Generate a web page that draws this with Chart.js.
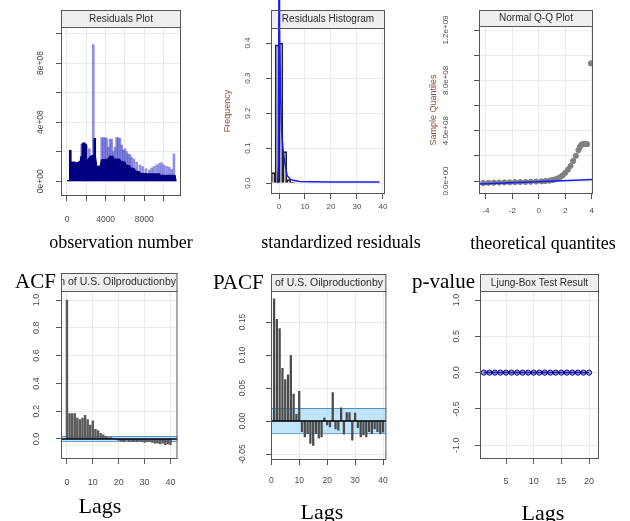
<!DOCTYPE html>
<html>
<head>
<meta charset="utf-8">
<script src="https://cdn.jsdelivr.net/npm/chart.js@4.4.0/dist/chart.umd.min.js"></script>
<style>
html, body { margin: 0; padding: 0; background: #fff; }
#page { position: relative; width: 630px; height: 521px; overflow: hidden; background: #fff; }
#page canvas { position: absolute; }
.lab { position: absolute; font-family: 'Liberation Serif', 'Times New Roman', serif; color: #000; white-space: nowrap; line-height: 1; z-index: 5; }
.ctr { text-align: center; width: 220px; }
</style>
</head>
<body>
<div id="page">
  <canvas id="c1"></canvas>
  <canvas id="c2"></canvas>
  <canvas id="c3"></canvas>
  <canvas id="c4"></canvas>
  <canvas id="c5"></canvas>
  <canvas id="c6"></canvas>
  <div class="lab ctr" style="left:11px;top:233px;font-size:18px">observation number</div>
  <div class="lab ctr" style="left:231px;top:233px;font-size:18px">standardized residuals</div>
  <div class="lab ctr" style="left:433px;top:234px;font-size:18px">theoretical quantites</div>
  <div class="lab" style="left:15px;top:271px;font-size:21px">ACF</div>
  <div class="lab" style="left:213px;top:272px;font-size:21px">PACF</div>
  <div class="lab" style="left:412px;top:271px;font-size:21px">p-value</div>
  <div class="lab ctr" style="left:-10px;top:495px;font-size:22px">Lags</div>
  <div class="lab ctr" style="left:212px;top:501px;font-size:22px">Lags</div>
  <div class="lab ctr" style="left:433px;top:502px;font-size:22px">Lags</div>
</div>
<script>
// residuals plot (observation number vs residual)
var residSpikeObs = [1520, 1690, 1860, 2030, 2310, 2720, 3590, 3760, 3930, 4100, 4280, 4450, 4620, 4790, 4970, 5140, 5310, 5480, 5660, 5830, 6000, 6170, 6350, 6520, 6690, 6930, 7210, 7550, 7830, 8170, 8520, 8760, 9000, 9280, 9550, 9790, 10030, 10310, 10590, 10830, 11070];
var residSpikeVal = [2.5e8, 2.6e8, 2.55e8, 2.4e8, 2.2e8, 9.25e8, 2.95e8, 2.95e8, 2.95e8, 2.9e8, 2.3e8, 2.85e8, 2.85e8, 2.0e8, 2.3e8, 2.95e8, 2.95e8, 2.9e8, 2.45e8, 2.1e8, 2.2e8, 2.0e8, 1.85e8, 1.8e8, 1.6e8, 1.5e8, 1.3e8, 1.1e8, 1.0e8, 0.85e8, 0.75e8, 0.9e8, 1.0e8, 1.1e8, 1.2e8, 1.25e8, 1.1e8, 1.0e8, 0.95e8, 0.8e8, 1.85e8];
var residDarkObs = [340, 1640, 1780, 1930, 2870];
var residDarkVal = [2.1e8, 2.55e8, 2.6e8, 2.5e8, 2.9e8];
var residBodyObs = [0, 280, 320, 420, 800, 1000, 1350, 1450, 1700, 1900, 2200, 2400, 2700, 2900, 3100, 3450, 3550, 4250, 4400, 4750, 4900, 5450, 5600, 6000, 6100, 6500, 6600, 7000, 7100, 7500, 7600, 8300, 9600, 9700, 11200, 11300];
var residBodyVal = [0.05e8, 0.05e8, 0.8e8, 1.3e8, 1.3e8, 1.25e8, 1.35e8, 1.7e8, 1.6e8, 1.45e8, 1.5e8, 1.7e8, 1.75e8, 1.9e8, 1.0e8, 1.05e8, 1.45e8, 1.5e8, 1.7e8, 1.7e8, 1.5e8, 1.5e8, 1.35e8, 1.3e8, 1.1e8, 1.05e8, 0.9e8, 0.85e8, 0.7e8, 0.65e8, 0.55e8, 0.5e8, 0.5e8, 0.4e8, 0.4e8, 0];
var residXTicks = [0, 2000, 4000, 6000, 8000, 10000];
var residXLabels = ['0', '', '4000', '', '8000', ''];
var residYTicks = [0, 2e8, 4e8, 6e8, 8e8, 1e9];
var residYLabels = ['0e+00', '', '4e+08', '', '8e+08', ''];

// residuals histogram
var histCenters = [-2.25, -0.75, 0.75, 2.25, 3.75, 5.25];
var histFreq = [0.03, 0.395, 0.40, 0.09, 0.01, 0.003];
var densX = [-0.6, -0.2, 0.0, 0.05, 0.35, 0.6, 1.0, 1.5, 2.2, 3.1, 4.2, 5.4, 8, 11.8, 20, 38.7];
var densY = [0.0, 0.05, 0.7, 0.7, 0.45, 0.25, 0.15, 0.1, 0.06, 0.022, 0.012, 0.008, 0.005, 0.004, 0.003, 0.003];
var histXTicks = [0, 10, 20, 30, 40];
var histXLabels = ['0', '10', '20', '30', '40'];
var histYTicks = [0, 0.1, 0.2, 0.3, 0.4];
var histYLabels = ['0.0', '0.1', '0.2', '0.3', '0.4'];

// normal Q-Q plot
var qqTheo = [-4.2, -3.8, -3.4, -3.0, -2.6, -2.2, -1.8, -1.4, -1.0, -0.6, -0.2, 0.2, 0.5, 0.8, 1.0, 1.2, 1.4, 1.6, 1.8, 2.0, 2.2, 2.4, 2.6, 2.8, 3.0, 3.1, 3.2, 3.3, 3.4, 3.5, 3.6, 3.65, 3.94];
var qqSample = [-0.16e8, -0.14e8, -0.13e8, -0.12e8, -0.11e8, -0.1e8, -0.09e8, -0.08e8, -0.07e8, -0.06e8, -0.04e8, -0.02e8, 0, 0.03e8, 0.07e8, 0.12e8, 0.2e8, 0.3e8, 0.45e8, 0.65e8, 0.9e8, 1.2e8, 1.6e8, 2.0e8, 2.45e8, 2.7e8, 2.85e8, 2.92e8, 2.95e8, 2.95e8, 2.95e8, 2.93e8, 9.35e8];
var qqLineX = [-4.52, 4.1];
var qqLineY = [-0.24e8, 0.13e8];
var qqXTicks = [-4, -2, 0, 2, 4];
var qqXLabels = ['-4', '-2', '0', '2', '4'];
var qqYTicks = [0, 2e8, 4e8, 6e8, 8e8, 1e9, 1.2e9];
var qqYLabels = ['0.0e+00', '', '4.0e+08', '', '8.0e+08', '', '1.2e+09'];

// ACF
var acfLags = [0, 1, 2, 3, 4, 5, 6, 7, 8, 9, 10, 11, 12, 13, 14, 15, 16, 17, 18, 19, 20, 21, 22, 23, 24, 25, 26, 27, 28, 29, 30, 31, 32, 33, 34, 35, 36, 37, 38, 39, 40];
var acfVals = [1.0, 0.183, 0.183, 0.183, 0.15, 0.14, 0.15, 0.17, 0.14, 0.10, 0.13, 0.07, 0.06, 0.04, 0.03, 0.02, 0.01, 0.01, 0.005, 0.0, -0.01, -0.015, -0.02, -0.01, -0.02, -0.015, -0.02, -0.02, -0.015, -0.02, -0.025, -0.02, -0.02, -0.025, -0.03, -0.03, -0.035, -0.03, -0.04, -0.035, -0.04];
var acfCI = 0.018;
var acfXTicks = [0, 10, 20, 30, 40];
var acfXLabels = ['0', '10', '20', '30', '40'];
var acfYTicks = [0, 0.2, 0.4, 0.6, 0.8, 1.0];
var acfYLabels = ['0.0', '0.2', '0.4', '0.6', '0.8', '1.0'];

// PACF
var pacfLags = [1, 2, 3, 4, 5, 6, 7, 8, 9, 10, 11, 12, 13, 14, 15, 16, 17, 18, 19, 20, 21, 22, 23, 24, 25, 26, 27, 28, 29, 30, 31, 32, 33, 34, 35, 36, 37, 38, 39, 40];
var pacfVals = [0.185, 0.154, 0.14, 0.08, 0.063, 0.07, 0.099, 0.041, 0.01, 0.045, -0.016, -0.024, -0.019, -0.034, -0.037, -0.019, -0.026, -0.024, 0.005, -0.006, -0.009, 0.043, -0.012, -0.014, 0.02, -0.02, 0.013, 0.013, -0.029, 0.012, -0.01, -0.024, -0.021, -0.024, -0.016, -0.019, -0.012, -0.016, -0.019, -0.017];
var pacfCI = 0.019;
var pacfXTicks = [0, 10, 20, 30, 40];
var pacfXLabels = ['0', '10', '20', '30', '40'];
var pacfYTicks = [-0.05, 0, 0.05, 0.10, 0.15];
var pacfYLabels = ['-0.05', '0.00', '0.05', '0.10', '0.15'];

// Ljung-Box
var ljungLags = [1, 2, 3, 4, 5, 6, 7, 8, 9, 10, 11, 12, 13, 14, 15, 16, 17, 18, 19, 20];
var ljungP = [0, 0, 0, 0, 0, 0, 0, 0, 0, 0, 0, 0, 0, 0, 0, 0, 0, 0, 0, 0];
var ljungXTicks = [5, 10, 15, 20];
var ljungXLabels = ['5', '10', '15', '20'];
var ljungYTicks = [-1, -0.5, 0, 0.5, 1];
var ljungYLabels = ['-1.0', '-0.5', '0.0', '0.5', '1.0'];

var SANS = "'Liberation Sans', Arial, sans-serif";
var GRID = '#ebebeb', TICK = '#555', FRAME = '#555', LABEL = '#4d4d4d';
var AW = 52, PT = 28, PR = 8, AH = 40;
Chart.defaults.font.family = SANS;

function pts(xs, ys) {
  return xs.map(function (x, i) { return { x: x, y: ys[i] }; });
}

// strip, frame and rotated y labels like a lattice panel
function rPanel(d) {
  return {
    id: 'rPanel',
    beforeDatasetsDraw: function (chart) {
      var ctx = chart.ctx, a = chart.chartArea, st = a.top - d.strip;
      ctx.save();
      ctx.fillStyle = '#efefef';
      ctx.fillRect(a.left, st, a.right - a.left, d.strip);
      ctx.beginPath();
      ctx.rect(a.left + 1, st, a.right - a.left - 2, d.strip);
      ctx.clip();
      ctx.fillStyle = '#2b2b2b';
      ctx.font = (d.stripFont || 10) + 'px ' + SANS;
      ctx.textBaseline = 'middle';
      var ty = st + d.strip / 2 + 0.5;
      if (d.lead) {
        ctx.textAlign = 'left';
        ctx.fillText(d.lead + d.title, a.left + d.inset - ctx.measureText(d.lead).width, ty);
      } else {
        ctx.textAlign = 'center';
        ctx.fillText(d.title, (a.left + a.right) / 2, ty);
      }
      ctx.restore();
    },
    afterDatasetsDraw: function (chart) {
      var ctx = chart.ctx, a = chart.chartArea, st = a.top - d.strip;
      ctx.save();
      ctx.strokeStyle = FRAME;
      ctx.lineWidth = 1;
      ctx.strokeRect(a.left + 0.5, st + 0.5, a.right - a.left - 1, a.bottom - st - 1);
      ctx.beginPath();
      ctx.moveTo(a.left, a.top + 0.5);
      ctx.lineTo(a.right, a.top + 0.5);
      ctx.stroke();
      ctx.restore();
    },
    afterDraw: function (chart) {
      var ctx = chart.ctx, a = chart.chartArea, ys = chart.scales.y;
      ctx.save();
      ctx.fillStyle = LABEL;
      ctx.font = d.size + 'px ' + SANS;
      ctx.textAlign = 'center';
      ctx.textBaseline = 'middle';
      d.yTicks.forEach(function (v, i) {
        if (!d.yLabels[i]) return;
        ctx.save();
        ctx.translate(a.left - d.yLabX, ys.getPixelForValue(v));
        ctx.rotate(-Math.PI / 2);
        ctx.fillText(d.yLabels[i], 0, 0);
        ctx.restore();
      });
      if (d.yTitle) {
        ctx.fillStyle = '#8b4b3b';
        ctx.font = '9px ' + SANS;
        ctx.translate(a.left - d.yTitleX, (a.top + a.bottom) / 2);
        ctx.rotate(-Math.PI / 2);
        ctx.fillText(d.yTitle, 0, 0);
      }
      ctx.restore();
    }
  };
}

function axisX(s) {
  return {
    type: 'linear', min: s.min, max: s.max, offset: false,
    afterBuildTicks: function (sc) { sc.ticks = s.ticks.map(function (v) { return { value: v }; }); },
    afterFit: function (sc) { sc.height = AH; },
    grid: { color: GRID, tickColor: TICK, tickLength: 5, offset: false },
    border: { display: false },
    ticks: {
      autoSkip: false, maxRotation: 0, minRotation: 0, padding: s.pad, color: LABEL,
      font: { size: s.size },
      callback: function (v, i) { return s.labels[i]; }
    }
  };
}

function axisY(s) {
  return {
    type: 'linear', min: s.min, max: s.max,
    afterBuildTicks: function (sc) { sc.ticks = s.ticks.map(function (v) { return { value: v }; }); },
    afterFit: function (sc) { sc.width = AW; },
    grid: { color: GRID, tickColor: TICK, tickLength: 5 },
    border: { display: false },
    ticks: { display: false }
  };
}

function panel(id, area, datasets, xs, ys, deco) {
  var cv = document.getElementById(id);
  var w = AW + (area.r - area.l) + PR, h = PT + (area.b - area.t) + AH;
  cv.width = w; cv.height = h;
  cv.style.width = w + 'px'; cv.style.height = h + 'px';
  cv.style.left = (area.l - AW) + 'px';
  cv.style.top = (area.t - PT) + 'px';
  deco.yTicks = ys.ticks; deco.yLabels = ys.labels; deco.size = xs.size;
  return new Chart(cv, {
    type: 'line',
    data: { datasets: datasets },
    options: {
      responsive: false, animation: false, devicePixelRatio: 1,
      layout: { padding: { top: PT, right: PR, left: 0, bottom: 0 } },
      plugins: { legend: { display: false }, tooltip: { enabled: false } },
      scales: { x: axisX(xs), y: axisY(ys) }
    },
    plugins: [rPanel(deco)]
  });
}

function band(xmin, xmax, ci) {
  return [
    { type: 'line', data: [{ x: xmin, y: ci }, { x: xmax, y: ci }], borderColor: '#4f8fd0', borderWidth: 1, pointRadius: 0, fill: '+1', backgroundColor: 'rgba(150,210,245,0.6)', order: 5 },
    { type: 'line', data: [{ x: xmin, y: -ci }, { x: xmax, y: -ci }], borderColor: '#4f8fd0', borderWidth: 1, pointRadius: 0, fill: false, order: 5 },
    { type: 'line', data: [{ x: xmin, y: 0 }, { x: xmax, y: 0 }], borderColor: '#000', borderWidth: 1.5, pointRadius: 0, fill: false, order: 1 }
  ];
}

// 1. residuals plot
panel('c1', { l: 61, t: 27, r: 181, b: 196 }, [
  { type: 'bar', data: pts(residSpikeObs, residSpikeVal), backgroundColor: 'rgba(70,70,200,0.6)', barThickness: 2, grouped: false, order: 3 },
  { type: 'bar', data: pts(residDarkObs, residDarkVal), backgroundColor: '#00007a', barThickness: 2, grouped: false, order: 2 },
  { type: 'line', data: pts(residBodyObs, residBodyVal), borderColor: '#000080', backgroundColor: '#000080', borderWidth: 1, pointRadius: 0, fill: 'origin', order: 1 }
], { min: -620, max: 11800, ticks: residXTicks, labels: residXLabels, pad: 14, size: 8.5 },
   { min: -1.0e8, max: 1.044e9, ticks: residYTicks, labels: residYLabels },
   { strip: 17, title: 'Residuals Plot', yLabX: 20 });

// 2. residuals histogram
panel('c2', { l: 271, t: 28, r: 385, b: 194 }, [
  { type: 'bar', data: pts(histCenters, histFreq), backgroundColor: 'rgba(0,0,0,0.07)', borderColor: '#222', borderWidth: 1, categoryPercentage: 1, barPercentage: 1, order: 2 },
  { type: 'line', data: pts(densX, densY), borderColor: '#1a1aff', borderWidth: 1.5, pointRadius: 0, fill: false, order: 1, clip: { left: 0, top: 30, right: 0, bottom: 0 } }
], { min: -3.08, max: 40.8, ticks: histXTicks, labels: histXLabels, pad: 3, size: 8 },
   { min: -0.031, max: 0.443, ticks: histYTicks, labels: histYLabels },
   { strip: 18, title: 'Residuals Histogram', yLabX: 23, yTitle: 'Frequency', yTitleX: 43 });

// 3. normal Q-Q plot
panel('c3', { l: 479, t: 26, r: 593, b: 194 }, [
  { type: 'line', data: pts(qqTheo, qqSample), showLine: false, pointRadius: 2.6, pointBackgroundColor: '#808080', pointBorderColor: '#808080', order: 2 },
  { type: 'line', data: pts(qqLineX, qqLineY), borderColor: '#1a1aff', borderWidth: 1.5, pointRadius: 0, fill: false, order: 1 }
], { min: -4.52, max: 4.1, ticks: qqXTicks, labels: qqXLabels, pad: 7, size: 8 },
   { min: -1.03e8, max: 1.232e9, ticks: qqYTicks, labels: qqYLabels },
   { strip: 16, title: 'Normal Q-Q Plot', yLabX: 33, yTitle: 'Sample Quantiles', yTitleX: 45 });

// 4. ACF
panel('c4', { l: 61, t: 291, r: 181, b: 459 }, band(-2.3, 42.7, acfCI).concat([
  { type: 'bar', data: pts(acfLags, acfVals), backgroundColor: '#5a5a5a', barThickness: 1.8, grouped: false, order: 2 }
]), { min: -2.3, max: 42.7, ticks: acfXTicks, labels: acfXLabels, pad: 13, size: 9 },
   { min: -0.144, max: 1.065, ticks: acfYTicks, labels: acfYLabels },
   { strip: 18, stripFont: 10.5, title: 'of U.S. Oilproductionby week', lead: 'Autocorrelation ', inset: 7, yLabX: 24 });

// 5. PACF
panel('c5', { l: 271, t: 291, r: 391, b: 460 }, band(-0.1, 41.2, pacfCI).concat([
  { type: 'bar', data: pts(pacfLags, pacfVals), backgroundColor: '#4a4a4a', barThickness: 1.6, grouped: false, order: 2 }
]), { min: -0.1, max: 41.2, ticks: pacfXTicks, labels: pacfXLabels, pad: 11, size: 8.5 },
   { min: -0.059, max: 0.197, ticks: pacfYTicks, labels: pacfYLabels },
   { strip: 17, stripFont: 10.5, title: 'of U.S. Oilproductionby week', lead: 'Partial Autocorrelation ', inset: 4, yLabX: 28 });

// 6. Ljung-Box p-values
panel('c6', { l: 480, t: 291, r: 599, b: 459 }, [
  { type: 'line', data: pts(ljungLags, ljungP), borderColor: '#00008b', borderWidth: 1.5, pointRadius: 2.6, pointBorderColor: '#00008b', pointBackgroundColor: 'rgba(60,60,190,0.45)', pointBorderWidth: 1, fill: false }
], { min: 0.3, max: 21.8, ticks: ljungXTicks, labels: ljungXLabels, pad: 12, size: 9 },
   { min: -1.19, max: 1.124, ticks: ljungYTicks, labels: ljungYLabels },
   { strip: 17, title: 'Ljung-Box Test Result', yLabX: 23 });
</script>
</body>
</html>
